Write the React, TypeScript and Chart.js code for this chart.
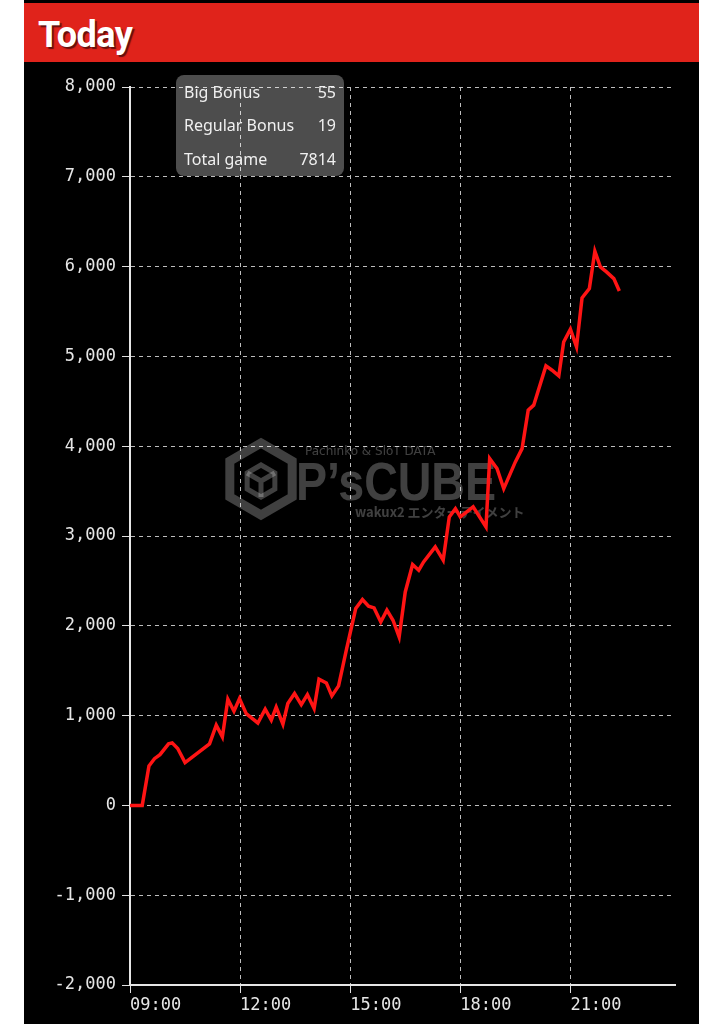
import React, { useEffect, useRef } from "react";
import { Chart, registerables } from "chart.js";

Chart.register(...registerables);

// minutes since midnight
const times = [540, 560, 571, 580, 589, 603, 609, 618, 630, 670, 681, 691, 700, 710, 719, 730, 749, 761, 771, 779, 790, 798, 809, 820, 830, 841, 849, 861, 870, 881, 894, 909, 920, 930, 939, 950, 960, 970, 980, 990, 1002, 1012, 1020, 1039, 1052, 1062, 1072, 1080, 1101, 1122, 1128, 1140, 1151, 1170, 1181, 1191, 1200, 1220, 1230, 1241, 1249, 1260, 1270, 1279, 1291, 1300, 1309, 1319, 1331, 1340];
const values = [0, 0, 440, 520, 565, 685, 696, 633, 477, 685, 893, 763, 1183, 1049, 1189, 1022, 918, 1071, 949, 1094, 904, 1134, 1245, 1123, 1234, 1078, 1405, 1364, 1219, 1331, 1739, 2192, 2292, 2218, 2199, 2043, 2174, 2062, 1876, 2377, 2682, 2619, 2712, 2879, 2731, 3213, 3305, 3213, 3324, 3101, 3862, 3751, 3528, 3825, 3973, 4401, 4457, 4894, 4846, 4783, 5161, 5303, 5106, 5651, 5755, 6171, 5997, 5941, 5866, 5729];

const xTicks = [540, 720, 900, 1080, 1260];
const xMin = 540;
const xMax = 1431;
const yMin = -2000;
const yMax = 8000;
const yStep = 1000;

const legendLabels = ["Big Bonus", "Regular Bonus", "Total game"];
const legendValues = ["55", "19", "7814"];

const title = "Today";

const fmtTime = (m: number) => {
  const h = Math.floor(m / 60);
  const mm = m % 60;
  return String(h).padStart(2, "0") + ":" + String(mm).padStart(2, "0");
};

const watermarkPlugin = {
  id: "watermark",
  beforeDatasetsDraw(chart: any) {
    const { ctx, chartArea } = chart;
    const L = chartArea.left;
    const T = chartArea.top;
    ctx.save();
    const col = "rgba(255,255,255,0.25)";
    // hexagon icon
    const cx = L + 131;
    const cy = T + 392;
    const r = 36;
    ctx.strokeStyle = col;
    ctx.fillStyle = col;
    ctx.lineWidth = 9;
    ctx.beginPath();
    for (let i = 0; i < 6; i++) {
      const a = -Math.PI / 2 + (i * Math.PI) / 3;
      const px = cx + r * Math.cos(a);
      const py = cy + r * Math.sin(a);
      if (i === 0) ctx.moveTo(px, py);
      else ctx.lineTo(px, py);
    }
    ctx.closePath();
    ctx.stroke();
    // inner cube
    const r2 = 16;
    ctx.lineWidth = 5;
    ctx.beginPath();
    for (let i = 0; i < 6; i++) {
      const a = -Math.PI / 2 + (i * Math.PI) / 3;
      const px = cx + r2 * Math.cos(a);
      const py = cy + 2 + r2 * Math.sin(a);
      if (i === 0) ctx.moveTo(px, py);
      else ctx.lineTo(px, py);
    }
    ctx.closePath();
    ctx.stroke();
    ctx.beginPath();
    ctx.moveTo(cx, cy + 2);
    ctx.lineTo(cx, cy + 2 + r2);
    ctx.moveTo(cx, cy + 2);
    ctx.lineTo(cx - r2 * 0.866, cy + 2 - r2 / 2);
    ctx.moveTo(cx, cy + 2);
    ctx.lineTo(cx + r2 * 0.866, cy + 2 - r2 / 2);
    ctx.stroke();

    // texts
    ctx.textBaseline = "alphabetic";
    ctx.textAlign = "left";
    ctx.font = "12px 'DejaVu Sans'";
    ctx.fillText("Pachinko & SloT DATA", L + 175, T + 368);

    ctx.save();
    ctx.font = "bold 54px 'Liberation Sans'";
    const txt = "P’sCUBE";
    const w = ctx.measureText(txt).width;
    const target = 200;
    ctx.translate(L + 166, T + 413);
    ctx.scale(target / w, 1);
    ctx.fillText(txt, 0, 0);
    ctx.restore();

    ctx.font = "bold 13px 'Noto Sans CJK JP'";
    ctx.fillText("wakux2 エンターテイメント", L + 225, T + 430);
    ctx.restore();
  },
};

const legendPlugin = {
  id: "infoBox",
  afterDraw(chart: any) {
    const { ctx, chartArea } = chart;
    const L = chartArea.left;
    const T = chartArea.top;
    const x = L + 46;
    const y = T - 12;
    const w = 168;
    const h = 101;
    ctx.save();
    ctx.fillStyle = "rgba(255,255,255,0.3)";
    ctx.beginPath();
    ctx.roundRect(x, y, w, h, 8);
    ctx.fill();
    ctx.fillStyle = "#f0f0f0";
    ctx.font = "16px 'Noto Sans'";
    ctx.textBaseline = "middle";
    legendLabels.forEach((lab, i) => {
      const ty = y + 18 + i * 33.5;
      ctx.textAlign = "left";
      ctx.fillText(lab, x + 8, ty);
      ctx.textAlign = "right";
      ctx.fillText(legendValues[i], x + w - 8, ty);
    });
    ctx.restore();
  },
};

export default function App() {
  const ref = useRef<HTMLCanvasElement | null>(null);

  useEffect(() => {
    document.body.style.margin = "0";
    if (!ref.current) return;
    const data = times.map((t, i) => ({ x: t, y: values[i] }));
    const chart = new Chart(ref.current, {
      type: "line",
      data: {
        datasets: [
          {
            data,
            borderColor: "#ff1414",
            borderWidth: 3.5,
            pointRadius: 0,
            tension: 0,
            fill: false,
          },
        ],
      },
      options: {
        animation: false,
        responsive: false,
        events: [],
        layout: { padding: { left: 0, right: 24, top: 25, bottom: 0 } },
        plugins: {
          legend: { display: false },
          tooltip: { enabled: false },
        },
        scales: {
          x: {
            type: "linear",
            min: xMin,
            max: xMax,
            afterBuildTicks: (scale: any) => {
              scale.ticks = xTicks.map((v) => ({ value: v }));
            },
            afterFit: (scale: any) => {
              scale.height = 39;
            },
            ticks: {
              align: "start",
              color: "#e6e6e6",
              font: { family: "'DejaVu Sans Mono'", size: 17 },
              padding: 2,
              maxRotation: 0,
              autoSkip: false,
              callback: (v: any) => fmtTime(Number(v)),
            },
            grid: {
              color: "#bdbdbd",
              lineWidth: 1,
              tickLength: 8,
              tickColor: "#e0e0e0",
            },
            border: { color: "#e6e6e6", width: 2, dash: [4, 4] },
          },
          y: {
            type: "linear",
            min: yMin,
            max: yMax,
            afterFit: (scale: any) => {
              scale.width = 106;
            },
            ticks: {
              stepSize: yStep,
              color: "#e6e6e6",
              font: { family: "'DejaVu Sans Mono'", size: 17 },
              padding: 6,
              callback: (v: any) => Number(v).toLocaleString("en-US"),
            },
            grid: {
              color: "#bdbdbd",
              lineWidth: 1,
              tickLength: 8,
              tickColor: "#e0e0e0",
            },
            border: { color: "#e6e6e6", width: 2, dash: [4, 4] },
          },
        },
      },
      plugins: [watermarkPlugin, legendPlugin],
    } as any);
    return () => chart.destroy();
  }, []);

  return (
    <div style={{ position: "relative", width: 721, height: 1024, background: "#fff", overflow: "hidden" }}>
      <div
        style={{
          position: "absolute",
          left: 24,
          top: 0,
          width: 675,
          height: 1024,
          background: "#000",
        }}
      >
        <div
          style={{
            position: "absolute",
            left: 0,
            top: 3,
            width: 675,
            height: 59,
            background: "#e0231b",
          }}
        >
          <span
            style={{
              position: "absolute",
              left: 14,
              top: 11,
              color: "#fff",
              fontFamily: "Roboto, 'Noto Sans', sans-serif",
              fontWeight: 700,
              fontSize: 36,
              lineHeight: "42px",
              letterSpacing: -0.5,
              textShadow: "2px 2px 1px rgba(0,0,0,0.55)",
            }}
          >
            {title}
          </span>
        </div>
        <canvas
          ref={ref}
          width={675}
          height={962}
          style={{ position: "absolute", left: 0, top: 62, width: 675, height: 962 }}
        />
      </div>
    </div>
  );
}
